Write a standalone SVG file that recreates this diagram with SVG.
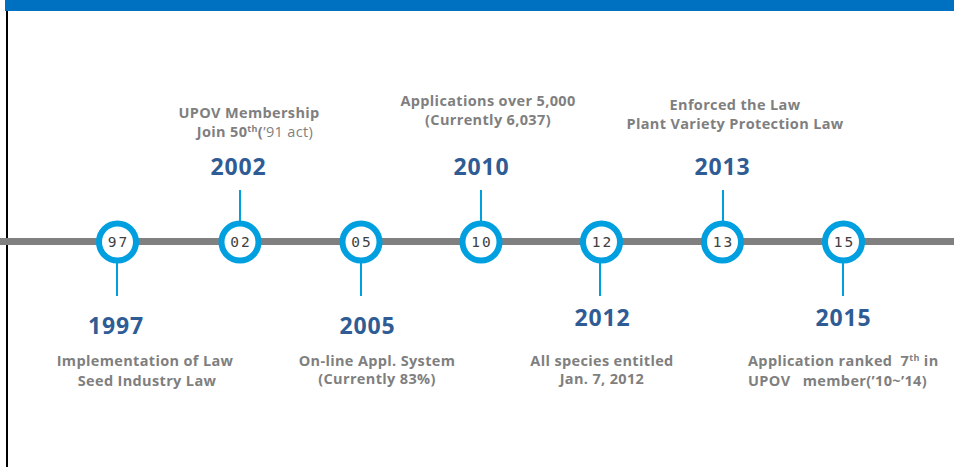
<svg xmlns="http://www.w3.org/2000/svg" width="954" height="467" viewBox="0 0 954 467">
<style>
.lbl{font-family:"Open Sans","Noto Sans","Liberation Sans",sans-serif;font-weight:700;font-size:14.5px;letter-spacing:0.35px;fill:#7f7f7f;text-anchor:middle}
.lt{font-weight:400}
.yr{font-family:"Open Sans","Noto Sans","Liberation Sans",sans-serif;font-weight:700;font-size:23px;letter-spacing:0.8px;fill:#2f5c94;text-anchor:middle}
.num{font-family:"DejaVu Sans Mono","Liberation Mono",monospace;font-size:14.5px;fill:#404040;text-anchor:middle;letter-spacing:2px}
.ring{fill:#ffffff;stroke:#00a0e0;stroke-width:6}
.tick{stroke:#00a0e0;stroke-width:2}
</style>
<rect x="0" y="0" width="954" height="467" fill="#ffffff"/>
<line x1="7" y1="0" x2="7" y2="467" stroke="#000000" stroke-width="2"/>
<rect x="5" y="0" width="949" height="11" fill="#0070c0"/>
<g id="connectors">
<rect x="0" y="238" width="954" height="7" fill="#808080"/>
<line class="tick" x1="117" y1="262" x2="117" y2="296"/>
<line class="tick" x1="240" y1="190" x2="240" y2="222"/>
<line class="tick" x1="361" y1="262" x2="361" y2="296"/>
<line class="tick" x1="481" y1="190" x2="481" y2="222"/>
<line class="tick" x1="600" y1="262" x2="600" y2="296"/>
<line class="tick" x1="723" y1="190" x2="723" y2="222"/>
<line class="tick" x1="843" y1="262" x2="843" y2="296"/>
</g>
<g id="n1997">
<circle class="ring" cx="117.5" cy="242" r="18.5"/>
<text class="num" x="118.5" y="247">97</text>
<text class="yr" x="116" y="334">1997</text>
<text class="lbl" x="145" y="366">Implementation of Law</text>
<text class="lbl" x="147" y="386">Seed Industry Law</text>
</g>
<g id="n2002">
<circle class="ring" cx="240" cy="242" r="18.5"/>
<text class="num" x="241" y="247">02</text>
<text class="yr" x="238.5" y="175">2002</text>
<text class="lbl" x="249" y="118">UPOV Membership</text>
<text class="lbl" x="255" y="137">Join 50<tspan font-size="9" dy="-5">th</tspan><tspan dy="5">(</tspan><tspan class="lt">’91 act)</tspan></text>
</g>
<g id="n2005">
<circle class="ring" cx="361" cy="242" r="18.5"/>
<text class="num" x="362" y="247">05</text>
<text class="yr" x="367.5" y="334">2005</text>
<text class="lbl" x="377" y="366">On-line Appl. System</text>
<text class="lbl" x="377" y="384">(Currently 83%)</text>
</g>
<g id="n2010">
<circle class="ring" cx="481" cy="242" r="18.5"/>
<text class="num" x="482" y="247">10</text>
<text class="yr" x="481.5" y="175">2010</text>
<text class="lbl" x="488" y="106">Applications over 5,000</text>
<text class="lbl" x="488" y="125">(Currently 6,037)</text>
</g>
<g id="n2012">
<circle class="ring" cx="601.5" cy="242" r="18.5"/>
<text class="num" x="602.5" y="247">12</text>
<text class="yr" x="602.5" y="326">2012</text>
<text class="lbl" x="602" y="366">All species entitled</text>
<text class="lbl" x="602" y="384">Jan. 7, 2012</text>
</g>
<g id="n2013">
<circle class="ring" cx="722.5" cy="242" r="18.5"/>
<text class="num" x="723.5" y="247">13</text>
<text class="yr" x="722.5" y="175">2013</text>
<text class="lbl" x="735" y="110">Enforced the Law</text>
<text class="lbl" x="735" y="129">Plant Variety Protection Law</text>
</g>
<g id="n2015">
<circle class="ring" cx="843.5" cy="242" r="18.5"/>
<text class="num" x="844.5" y="247">15</text>
<text class="yr" x="843.5" y="326">2015</text>
<text class="lbl" x="748" y="366" style="text-anchor:start" xml:space="preserve">Application ranked  7<tspan font-size="9" dy="-5">th</tspan><tspan dy="5"> in</tspan></text>
<text class="lbl" x="748" y="386" style="text-anchor:start" xml:space="preserve">UPOV   member(’10~’14)</text>
</g>
</svg>
